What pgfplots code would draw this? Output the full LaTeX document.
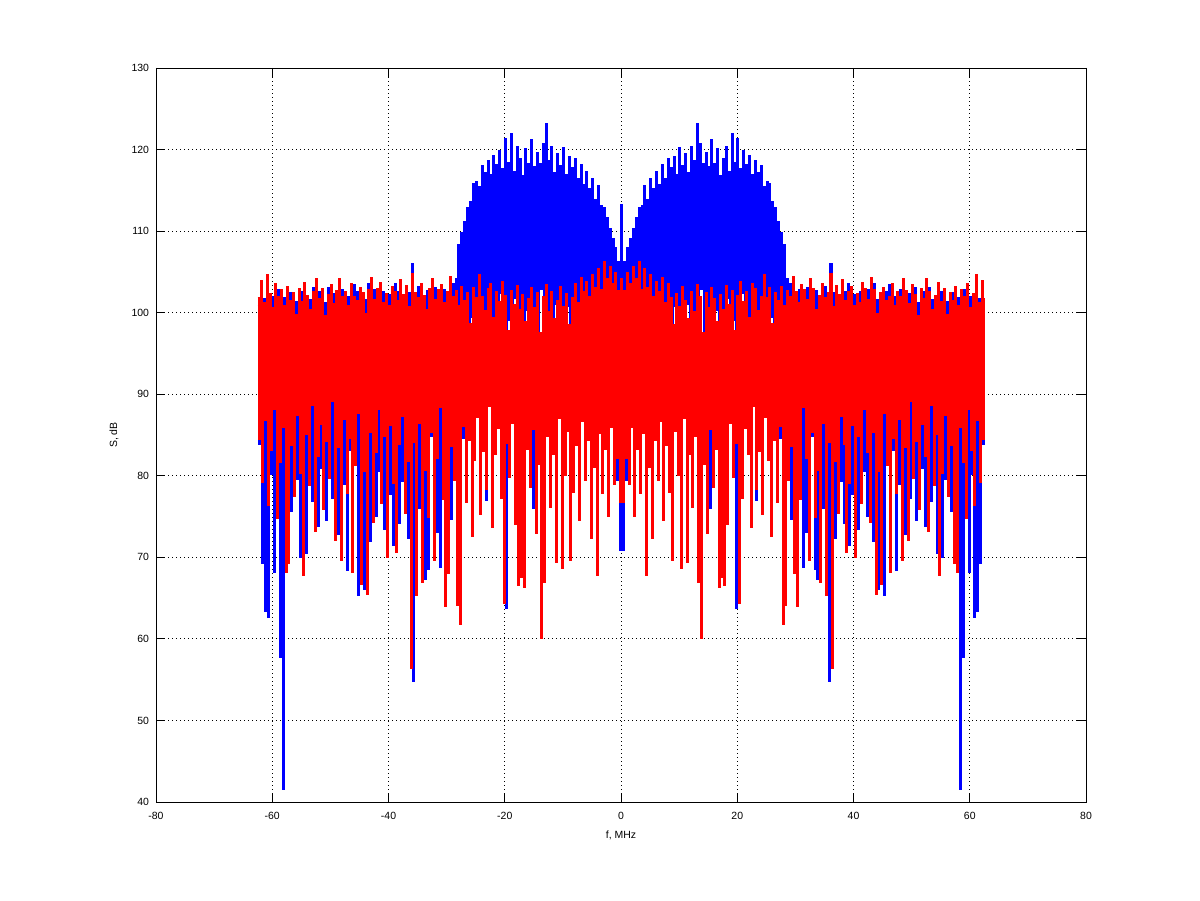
\documentclass[border=0pt]{standalone}
\usepackage{pgfplots}
\pgfplotsset{compat=1.18}
\usepackage{pgfplotstable}
\usepackage{fontspec}
\setmainfont{Liberation Sans}
\pgfplotstableread{
x r b
-62.5 101.8 100.9
-62.25 84.5 83.9
-62 103.9 102.6
-61.75 79.2 69.3
-61.5 101.2 101.7
-61.25 86.8 63.4
-61 104.6 103.1
-60.75 76.4 62.7
-60.5 102.3 101.0
-60.25 83.1 80.2
-60 100.6 101.9
-59.75 88.2 68.2
-59.5 103.5 102.2
-59.25 74.8 85.4
-59 101.9 102.8
-58.75 81.6 57.8
-58.5 102.8 100.7
-58.25 85.9 41.6
-58 100.9 101.8
-57.75 68.2 78.3
-57.5 103.2 102.1
-57.25 69.3 86.1
-57 101.5 102.4
-56.75 83.7 75.7
-56.5 102.4 101.0
-56.25 77.5 82.9
-56 99.8 101.3
-55.75 87.4 79.6
-55.5 102.9 102.0
-55.25 80.3 70.0
-55 101.3 102.5
-54.75 67.8 84.7
-54.5 103.7 102.2
-54.25 85.1 70.5
-54 102.1 101.4
-53.75 78.9 81.2
-53.5 100.4 101.6
-53.25 88.6 76.9
-53 102.6 103.0
-52.75 73.2 86.8
-52.5 104.2 102.7
-52.25 82.4 73.8
-52 101.7 102.5
-51.75 86.3 80.9
-51.5 102.9 101.6
-51.25 75.9 84.3
-51 99.6 101.2
-50.75 84.2 74.5
-50.5 102.2 103.1
-50.25 79.7 87.5
-50 103.4 102.1
-49.75 89.1 77.2
-49.5 101.1 102.3
-49.25 72.1 82.4
-49 102.7 101.8
-48.75 83.5 72.8
-48.5 104.1 102.6
-48.25 69.7 85.9
-48 101.9 102.8
-47.75 86.9 79.0
-47.5 102.5 101.1
-47.25 77.8 68.4
-47 100.8 102.0
-46.75 84.6 83.1
-46.5 103.6 102.5
-46.25 68.2 76.3
-46 102.0 103.4
-45.75 81.3 81.7
-45.5 101.4 102.6
-45.25 87.7 65.3
-45 103.1 101.9
-44.75 66.7 84.5
-44.5 102.4 101.0
-44.25 80.5 66.1
-44 99.9 101.6
-43.75 65.5 78.8
-43.5 102.8 103.5
-43.25 85.4 72.0
-43 104.3 102.4
-42.75 74.3 86.4
-42.5 101.6 102.8
-42.25 82.9 75.1
-42 102.9 101.5
-41.75 88.1 80.6
-41.5 103.7 102.1
-41.25 76.6 83.8
-41 101.2 102.6
-40.75 84.8 73.4
-40.5 102.3 101.4
-40.25 70.0 85.0
-40 100.9 102.2
-39.75 86.2 77.7
-39.5 103.2 101.7
-39.25 79.1 71.5
-39 102.6 103.6
-38.75 70.6 82.0
-38.5 101.5 102.5
-38.25 83.9 74.2
-38 104.0 102.2
-37.75 87.3 79.3
-37.5 102.2 101.3
-37.25 75.4 85.6
-37 103.3 102.0
-36.75 81.8 72.3
-36.5 100.7 102.4
-36.25 56.4 80.0
-36 104.8 106.0
-35.75 84.1 54.8
-35.5 102.4 101.6
-35.25 65.4 83.4
-35 101.8 103.2
-34.75 86.5 76.0
-34.5 103.5 102.0
-34.25 67.0 81.5
-34 102.1 101.4
-33.75 80.7 67.3
-33.5 100.3 102.7
-33.25 74.9 68.5
-33 102.9 101.9
-32.75 85.3 84.8
-32.5 104.1 102.3
-32.25 69.7 77.4
-32 101.6 103.0
-31.75 82.2 73.1
-31.5 102.8 101.7
-31.25 88.4 68.8
-31 103.4 102.2
-30.75 77.1 82.3
-30.5 101.2 102.8
-30.25 64.0 78.5
-30 102.6 101.5
-29.75 68.0 85.2
-29.5 104.4 102.4
-29.25 83.6 74.7
-29 101.9 103.6
-28.75 79.4 80.8
-28.5 102.7 104.2
-28.25 64.1 76.5
-28 100.8 108.3
-27.75 61.8 90.2
-27.5 103.2 109.8
-27.25 86.1 84.6
-27 101.5 111.2
-26.75 76.8 96.3
-26.5 102.4 112.9
-26.25 84.3 92.1
-26 98.6 113.6
-25.75 72.6 99.4
-25.5 103.1 115.8
-25.25 81.9 94.8
-25 101.8 116.1
-24.75 87.2 101.2
-24.5 104.6 115.4
-24.25 75.3 89.7
-24 102.0 118.0
-23.75 83.0 97.5
-23.5 100.2 117.2
-23.25 78.4 77.0
-23 102.9 118.6
-22.75 88.5 100.6
-22.5 103.6 116.9
-22.25 73.7 93.3
-22 99.4 119.2
-21.75 82.6 98.8
-21.5 102.5 118.1
-21.25 85.8 95.2
-21 101.3 119.8
-20.75 77.3 102.4
-20.5 103.8 117.6
-20.25 64.4 91.0
-20 102.1 121.3
-19.75 84.0 63.7
-19.5 97.8 118.4
-19.25 79.8 99.1
-19 102.7 121.9
-18.75 86.4 96.0
-18.5 101.0 117.3
-18.25 74.1 101.8
-18 103.3 120.4
-17.75 66.6 90.5
-17.5 100.4 118.9
-17.25 67.5 97.9
-17 102.2 116.8
-16.75 66.3 94.1
-16.5 98.9 120.1
-16.25 83.2 100.3
-16 101.7 118.3
-15.75 78.6 92.7
-15.5 103.0 121.2
-15.25 85.7 76.0
-15 100.6 117.9
-14.75 72.9 98.4
-14.5 102.4 119.6
-14.25 81.4 95.6
-14 97.5 118.2
-13.75 60.1 102.9
-13.5 101.9 120.7
-13.25 66.9 93.8
-13 103.4 123.2
-12.75 84.9 99.7
-12.5 100.1 118.6
-12.25 76.2 91.4
-12 102.6 120.3
-11.75 82.7 97.1
-11.5 99.2 117.1
-11.25 69.4 101.0
-11 101.4 119.5
-10.75 87.0 94.4
-10.5 103.2 118.0
-10.25 68.7 98.2
-10 100.7 120.2
-9.75 80.1 89.9
-9.5 102.3 116.9
-9.25 85.5 100.8
-9 98.5 119.1
-8.75 69.6 95.3
-8.5 101.8 117.8
-8.25 78.0 97.6
-8 103.6 118.9
-7.75 83.8 92.0
-7.5 101.2 116.4
-7.25 74.6 84.0
-7 104.3 118.1
-6.75 86.7 99.0
-6.5 102.5 115.7
-6.25 79.5 93.6
-6 103.8 117.3
-5.75 84.4 96.7
-5.5 101.9 115.2
-5.25 72.4 90.8
-5 104.7 116.4
-4.75 81.1 98.1
-4.5 103.1 113.9
-4.25 67.8 78.0
-4 105.4 115.6
-3.75 85.2 94.9
-3.5 102.8 113.1
-3.25 77.9 91.7
-3 106.3 112.8
-2.75 83.3 96.2
-2.5 104.2 111.6
-2.25 75.0 88.5
-2 105.6 110.3
-1.75 86.0 92.9
-1.5 103.5 109.0
-1.25 79.0 86.3
-1 104.9 107.9
-0.75 82.1 79.5
-0.5 102.7 106.2
-0.25 76.7 70.9
0 104.1 113.2
0.25 76.7 70.9
0.5 102.7 106.2
0.75 82.1 79.5
1 104.9 107.9
1.25 79.0 86.3
1.5 103.5 109.0
1.75 86.0 92.9
2 105.6 110.3
2.25 75.0 88.5
2.5 104.2 111.6
2.75 83.3 96.2
3 106.3 112.8
3.25 77.9 91.7
3.5 102.8 113.1
3.75 85.2 94.9
4 105.4 115.6
4.25 67.8 78.0
4.5 103.1 113.9
4.75 81.1 98.1
5 104.7 116.4
5.25 72.4 90.8
5.5 101.9 115.2
5.75 84.4 96.7
6 103.8 117.3
6.25 79.5 93.6
6.5 102.5 115.7
6.75 86.7 99.0
7 104.3 118.1
7.25 74.6 84.0
7.5 101.2 116.4
7.75 83.8 92.0
8 103.6 118.9
8.25 78.0 97.6
8.5 101.8 117.8
8.75 69.6 95.3
9 98.5 119.1
9.25 85.5 100.8
9.5 102.3 116.9
9.75 80.1 89.9
10 100.7 120.2
10.25 68.7 98.2
10.5 103.2 118.0
10.75 87.0 94.4
11 101.4 119.5
11.25 69.4 101.0
11.5 99.2 117.1
11.75 82.7 97.1
12 102.6 120.3
12.25 76.2 91.4
12.5 100.1 118.6
12.75 84.9 99.7
13 103.4 123.2
13.25 66.9 93.8
13.5 101.9 120.7
13.75 60.1 102.9
14 97.5 118.2
14.25 81.4 95.6
14.5 102.4 119.6
14.75 72.9 98.4
15 100.6 117.9
15.25 85.7 76.0
15.5 103.0 121.2
15.75 78.6 92.7
16 101.7 118.3
16.25 83.2 100.3
16.5 98.9 120.1
16.75 66.3 94.1
17 102.2 116.8
17.25 67.5 97.9
17.5 100.4 118.9
17.75 66.6 90.5
18 103.3 120.4
18.25 74.1 101.8
18.5 101.0 117.3
18.75 86.4 96.0
19 102.7 121.9
19.25 79.8 99.1
19.5 97.8 118.4
19.75 84.0 63.7
20 102.1 121.3
20.25 64.4 91.0
20.5 103.8 117.6
20.75 77.3 102.4
21 101.3 119.8
21.25 85.8 95.2
21.5 102.5 118.1
21.75 82.6 98.8
22 99.4 119.2
22.25 73.7 93.3
22.5 103.6 116.9
22.75 88.5 100.6
23 102.9 118.6
23.25 78.4 77.0
23.5 100.2 117.2
23.75 83.0 97.5
24 102.0 118.0
24.25 75.3 89.7
24.5 104.6 115.4
24.75 87.2 101.2
25 101.8 116.1
25.25 81.9 94.8
25.5 103.1 115.8
25.75 72.6 99.4
26 98.6 113.6
26.25 84.3 92.1
26.5 102.4 112.9
26.75 76.8 96.3
27 101.5 111.2
27.25 86.1 84.6
27.5 103.2 109.8
27.75 61.8 90.2
28 100.8 108.3
28.25 64.1 76.5
28.5 102.7 104.2
28.75 79.4 80.8
29 101.9 103.6
29.25 83.6 74.7
29.5 104.4 102.4
29.75 68.0 85.2
30 102.6 101.5
30.25 64.0 78.5
30.5 101.2 102.8
30.75 77.1 82.3
31 103.4 102.2
31.25 88.4 68.8
31.5 102.8 101.7
31.75 82.2 73.1
32 101.6 103.0
32.25 69.7 77.4
32.5 104.1 102.3
32.75 85.3 84.8
33 102.9 101.9
33.25 74.9 68.5
33.5 100.3 102.7
33.75 80.7 67.3
34 102.1 101.4
34.25 67.0 81.5
34.5 103.5 102.0
34.75 86.5 76.0
35 101.8 103.2
35.25 65.4 83.4
35.5 102.4 101.6
35.75 84.1 54.8
36 104.8 106.0
36.25 56.4 80.0
36.5 100.7 102.4
36.75 81.8 72.3
37 103.3 102.0
37.25 75.4 85.6
37.5 102.2 101.3
37.75 87.3 79.3
38 104.0 102.2
38.25 83.9 74.2
38.5 101.5 102.5
38.75 70.6 82.0
39 102.6 103.6
39.25 79.1 71.5
39.5 103.2 101.7
39.75 86.2 77.7
40 100.9 102.2
40.25 70.0 85.0
40.5 102.3 101.4
40.75 84.8 73.4
41 101.2 102.6
41.25 76.6 83.8
41.5 103.7 102.1
41.75 88.1 80.6
42 102.9 101.5
42.25 82.9 75.1
42.5 101.6 102.8
42.75 74.3 86.4
43 104.3 102.4
43.25 85.4 72.0
43.5 102.8 103.5
43.75 65.5 78.8
44 99.9 101.6
44.25 80.5 66.1
44.5 102.4 101.0
44.75 66.7 84.5
45 103.1 101.9
45.25 87.7 65.3
45.5 101.4 102.6
45.75 81.3 81.7
46 102.0 103.4
46.25 68.2 76.3
46.5 103.6 102.5
46.75 84.6 83.1
47 100.8 102.0
47.25 77.8 68.4
47.5 102.5 101.1
47.75 86.9 79.0
48 101.9 102.8
48.25 69.7 85.9
48.5 104.1 102.6
48.75 83.5 72.8
49 102.7 101.8
49.25 72.1 82.4
49.5 101.1 102.3
49.75 89.1 77.2
50 103.4 102.1
50.25 79.7 87.5
50.5 102.2 103.1
50.75 84.2 74.5
51 99.6 101.2
51.25 75.9 84.3
51.5 102.9 101.6
51.75 86.3 80.9
52 101.7 102.5
52.25 82.4 73.8
52.5 104.2 102.7
52.75 73.2 86.8
53 102.6 103.0
53.25 88.6 76.9
53.5 100.4 101.6
53.75 78.9 81.2
54 102.1 101.4
54.25 85.1 70.5
54.5 103.7 102.2
54.75 67.8 84.7
55 101.3 102.5
55.25 80.3 70.0
55.5 102.9 102.0
55.75 87.4 79.6
56 99.8 101.3
56.25 77.5 82.9
56.5 102.4 101.0
56.75 83.7 75.7
57 101.5 102.4
57.25 69.3 86.1
57.5 103.2 102.1
57.75 68.2 78.3
58 100.9 101.8
58.25 85.9 41.6
58.5 102.8 100.7
58.75 81.6 57.8
59 101.9 102.8
59.25 74.8 85.4
59.5 103.5 102.2
59.75 88.2 68.2
60 100.6 101.9
60.25 83.1 80.2
60.5 102.3 101.0
60.75 76.4 62.7
61 104.6 103.1
61.25 86.8 63.4
61.5 101.2 101.7
61.75 79.2 69.3
62 103.9 102.6
62.25 84.5 83.9
62.5 101.8 100.9
}\spec
\begin{document}
\begin{tikzpicture}[x=1bp,y=1bp]
\path[use as bounding box] (0,0) rectangle (1200,901);
\begin{axis}[
  at={(156bp,99bp)}, anchor=south west,
  scale only axis, width=930bp, height=734bp,
  xmin=-80, xmax=80, ymin=40, ymax=130,
  xtick={-80,-60,...,80}, ytick={40,50,...,130},
  tick align=inside, major tick length=9bp,
  grid=major,
  grid style={black, line width=0.9bp, dash pattern=on 0.9bp off 3.1bp},
  axis line style={line width=0.9bp, black},
  every tick/.style={black, line width=0.9bp},
  /pgf/number format/assume math mode=true,
  tick label style={font=\fontsize{10.5}{12}\selectfont},
  xticklabel style={yshift=-7bp},
  yticklabel style={xshift=-3.5bp},
  xlabel={f, MHz}, ylabel={S, dB},
  label style={font=\fontsize{10.5}{12}\selectfont},
  xlabel style={at={(axis description cs:0.5,0)}, anchor=center, yshift=-33bp},
  ylabel style={at={(axis description cs:0,0.5)}, anchor=center, yshift=42bp},
]
\addplot[blue, line width=1.55bp, const plot, line join=miter, mark=none] table[x=x, y=b] {\spec};
\addplot[red, line width=1.55bp, const plot, line join=miter, mark=none] table[x=x, y=r] {\spec};
\end{axis}
\end{tikzpicture}
\end{document}
